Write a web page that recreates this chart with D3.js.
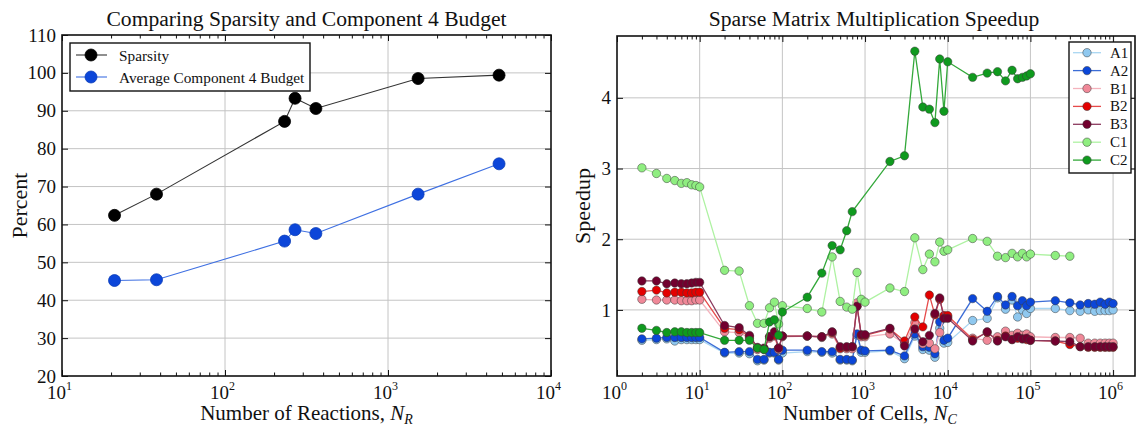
<!DOCTYPE html>
<html><head><meta charset="utf-8">
<script src="https://cdn.jsdelivr.net/npm/d3@7"></script>
<style>
body{margin:0;background:#fff;}
svg text{font-family:"Liberation Serif","Times New Roman",serif;fill:#111;}
</style></head><body>
<svg id="chart" width="1138" height="427"></svg>
<script>
// ---- Left panel data: sparsity vs. component 4 budget ----
const reactions = [21, 38, 232, 269, 361, 1530, 4800];
const sparsity  = [62.4, 68.0, 87.2, 93.3, 90.6, 98.5, 99.4];
const budget    = [45.2, 45.4, 55.6, 58.6, 57.6, 68.0, 76.0];
const percentTicks = [20, 30, 40, 50, 60, 70, 80, 90, 100, 110];
const reactionDecades = [1, 2, 3, 4];

// ---- Right panel data: speedup vs. number of cells ----
const cells = [
  2,3,4,5,6,7,8,9,10,
  20,30,40,50,60,70,80,90,100,
  200,300,400,500,600,700,800,900,1000,
  2000,3000,4000,5000,6000,7000,8000,9000,10000,
  20000,30000,40000,50000,60000,70000,80000,90000,100000,
  200000,300000,400000,500000,600000,700000,800000,900000,1000000
];
const speedA1 = [
  0.57,0.58,0.59,0.56,0.58,0.58,0.58,0.58,0.58,
  0.39,0.39,0.38,0.28,0.29,0.39,0.39,0.29,0.39,
  0.41,0.40,0.39,0.29,0.29,0.28,0.64,0.40,0.40,
  0.42,0.31,0.63,0.44,0.43,0.33,0.74,0.53,0.54,
  0.85,0.88,1.17,1.01,1.14,0.90,1.00,0.95,1.02,
  1.02,0.99,0.98,1.00,0.98,0.99,0.99,0.99,1.00
];
const speedA2 = [
  0.59,0.60,0.61,0.61,0.61,0.61,0.61,0.61,0.61,
  0.40,0.41,0.41,0.30,0.30,0.40,0.40,0.30,0.43,
  0.43,0.41,0.41,0.30,0.30,0.29,0.66,0.43,0.42,
  0.43,0.35,0.66,0.48,0.47,0.38,0.83,0.57,0.60,
  1.16,0.98,1.19,1.07,1.19,1.06,1.13,1.06,1.11,
  1.13,1.10,1.07,1.09,1.08,1.11,1.08,1.11,1.09
];
const speedB1 = [
  1.15,1.14,1.14,1.14,1.13,1.13,1.13,1.14,1.14,
  0.69,0.68,0.60,0.44,0.44,0.60,0.63,0.44,0.62,
  0.63,0.61,0.66,0.45,0.45,0.45,1.10,0.62,0.62,
  0.66,0.52,0.82,0.52,0.53,0.45,0.68,0.90,0.90,
  0.60,0.57,0.62,0.70,0.64,0.67,0.64,0.66,0.62,
  0.61,0.61,0.60,0.53,0.53,0.53,0.53,0.53,0.53
];
const speedB2 = [
  1.26,1.28,1.24,1.25,1.25,1.24,1.24,1.25,1.25,
  0.74,0.72,0.62,0.46,0.45,0.62,0.64,0.46,0.63,
  0.63,0.62,0.68,0.46,0.47,0.48,1.05,0.64,0.64,
  0.73,0.56,0.90,0.76,1.21,0.93,1.15,0.92,0.92,
  0.58,0.68,0.57,0.63,0.58,0.60,0.59,0.58,0.57,
  0.56,0.51,0.48,0.47,0.47,0.47,0.47,0.47,0.47
];
const speedB3 = [
  1.41,1.41,1.37,1.38,1.37,1.37,1.38,1.39,1.39,
  0.78,0.75,0.64,0.47,0.46,0.62,0.69,0.46,0.63,
  0.63,0.62,0.69,0.48,0.48,0.48,1.05,0.65,0.65,
  0.74,0.49,0.73,0.55,0.64,0.95,1.17,0.88,0.88,
  0.56,0.69,0.56,0.62,0.58,0.62,0.59,0.60,0.57,
  0.56,0.55,0.48,0.48,0.48,0.48,0.48,0.48,0.48
];
const speedC1 = [
  3.01,2.93,2.86,2.83,2.79,2.80,2.77,2.76,2.74,
  1.56,1.55,1.06,0.81,0.81,1.03,1.11,0.80,1.06,
  1.02,0.97,1.75,1.12,1.04,1.01,1.53,1.15,1.11,
  1.31,1.26,2.02,1.57,1.79,1.68,1.96,1.83,1.85,
  2.01,1.97,1.76,1.74,1.80,1.75,1.80,1.75,1.79,
  1.77,1.76,null,null,null,null,null,null,null
];
const speedC2 = [
  0.74,0.71,0.68,0.69,0.69,0.68,0.68,0.68,0.68,
  0.57,0.57,0.57,0.46,0.44,0.83,0.86,0.64,0.97,
  1.18,1.52,1.91,1.85,2.12,2.39,null,null,null,
  3.10,3.18,4.66,3.87,3.84,3.65,4.55,3.81,4.51,
  4.29,4.35,4.37,4.24,4.39,4.27,4.29,4.31,4.34,
  null,null,null,null,null,null,null,null,null
];
const seriesNames = ["A1", "A2", "B1", "B2", "B3", "C1", "C2"];
const seriesValues = [speedA1, speedA2, speedB1, speedB2, speedB3, speedC1, speedC2];
const seriesFill = ["#8fc8ef", "#0b46d8", "#f08898", "#e30000", "#72002e", "#8fee80", "#0f9a1e"];
const seriesLine = ["#a9d6f2", "#3c6dd6", "#f4b3bd", "#e64a4a", "#8c3a5e", "#aef2a2", "#33a83a"];
const speedTicks = [1, 2, 3, 4];
const cellDecades = [0, 1, 2, 3, 4, 5, 6];

const svg = d3.select("#chart");
const gridColor = "#c4c4c4";

// Panel geometry
const L = {x0: 62, x1: 551, y0: 35, y1: 376};
const R = {x0: 617, x1: 1135, y0: 36, y1: 376};

const xR = d3.scaleLog().domain([10, 1e4]).range([L.x0, L.x1]);
const yP = d3.scaleLinear().domain([20, 110]).range([L.y1, L.y0]);
const xC = d3.scaleLog().domain([1, Math.pow(10, 6.265)]).range([R.x0, R.x1]);
const yS = d3.scaleLinear().domain([0.065, 4.875]).range([R.y1, R.y0]);

function minorTicks(scale, decades) {
  const [lo, hi] = scale.domain();
  const out = [];
  decades.forEach(d => {
    for (let k = 2; k <= 9; k++) {
      const v = k * Math.pow(10, d);
      if (v > lo && v < hi) out.push(v);
    }
  });
  return out;
}

function drawGrid(P, x, y, xMajor, yMajor) {
  const g = svg.append("g");
  g.selectAll(".gx").data(xMajor.filter(v => x(v) > P.x0 + 0.5 && x(v) < P.x1 - 0.5)).enter()
    .append("line").attr("x1", d => x(d)).attr("x2", d => x(d))
    .attr("y1", P.y0).attr("y2", P.y1).attr("stroke", gridColor).attr("stroke-width", 1);
  g.selectAll(".gy").data(yMajor.filter(v => y(v) > P.y0 + 0.5 && y(v) < P.y1 - 0.5)).enter()
    .append("line").attr("y1", d => y(d)).attr("y2", d => y(d))
    .attr("x1", P.x0).attr("x2", P.x1).attr("stroke", gridColor).attr("stroke-width", 1);
}

function drawAxes(P, x, y, xMajor, yMajor, xMinor, yFmt) {
  const g = svg.append("g");
  const strip = s => s.select(".domain").remove();
  // bottom
  g.append("g").attr("transform", `translate(0,${P.y1})`)
    .call(d3.axisBottom(x).tickValues(xMinor).tickSize(-3.5).tickFormat("")).call(strip);
  const bx = g.append("g").attr("transform", `translate(0,${P.y1})`)
    .call(d3.axisBottom(x).tickValues(xMajor).tickSize(-6).tickFormat("")).call(strip);
  bx.selectAll(".tick").each(function(d) {
    const t = d3.select(this).append("text").attr("y", 23).attr("x", -3)
      .attr("text-anchor", "middle").style("font-size", "19px").attr("fill", "#111");
    t.append("tspan").text("10");
    t.append("tspan").attr("dy", -9).style("font-size", "12px").text(Math.round(Math.log10(d)));
  });
  // top
  g.append("g").attr("transform", `translate(0,${P.y0})`)
    .call(d3.axisTop(x).tickValues(xMinor).tickSize(-3.5).tickFormat("")).call(strip);
  g.append("g").attr("transform", `translate(0,${P.y0})`)
    .call(d3.axisTop(x).tickValues(xMajor).tickSize(-6).tickFormat("")).call(strip);
  // left
  g.append("g").attr("transform", `translate(${P.x0},0)`)
    .call(d3.axisLeft(y).tickValues(yMajor).tickSize(-6).tickPadding(6).tickFormat(yFmt))
    .call(strip)
    .call(a => a.selectAll("text").style("font-size", "19px").attr("fill", "#111"));
  // right
  g.append("g").attr("transform", `translate(${P.x1},0)`)
    .call(d3.axisRight(y).tickValues(yMajor).tickSize(-6).tickFormat("")).call(strip);
  g.selectAll(".tick line").attr("stroke", "#111").attr("stroke-width", 1);
  // frame
  g.append("rect").attr("x", P.x0).attr("y", P.y0)
    .attr("width", P.x1 - P.x0).attr("height", P.y1 - P.y0)
    .attr("fill", "none").attr("stroke", "#111").attr("stroke-width", 1.6);
}

// ================= Left panel =================
const xMajorL = reactionDecades.map(d => Math.pow(10, d));
const xMinorL = minorTicks(xR, [1, 2, 3]);
drawGrid(L, xR, yP, xMajorL, percentTicks);

const leftSeries = [
  {name: "Sparsity", values: sparsity, fill: "#000", stroke: "#000", line: "#333"},
  {name: "Average Component 4 Budget", values: budget, fill: "#0c46d9", stroke: "#0a3cb8", line: "#3f70e2"}
];
const lineL = d3.line().x(d => xR(d[0])).y(d => yP(d[1]));
leftSeries.forEach(s => {
  const pts = reactions.map((r, i) => [r, s.values[i]]);
  svg.append("path").attr("d", lineL(pts)).attr("fill", "none")
    .attr("stroke", s.line).attr("stroke-width", 1.1);
  svg.append("g").selectAll("circle").data(pts).enter().append("circle")
    .attr("cx", d => xR(d[0])).attr("cy", d => yP(d[1])).attr("r", 6)
    .attr("fill", s.fill).attr("stroke", s.stroke).attr("stroke-width", 0.8);
});

drawAxes(L, xR, yP, xMajorL, percentTicks, xMinorL, d3.format("d"));

// Left legend
const legL = svg.append("g");
legL.append("rect").attr("x", 70).attr("y", 43).attr("width", 240).attr("height", 48)
  .attr("fill", "#fff").attr("stroke", "#111").attr("stroke-width", 1.4);
leftSeries.forEach((s, i) => {
  const yy = 55 + i * 22;
  legL.append("line").attr("x1", 76).attr("x2", 107).attr("y1", yy).attr("y2", yy)
    .attr("stroke", s.line).attr("stroke-width", 1.1);
  legL.append("circle").attr("cx", 91).attr("cy", yy).attr("r", 6)
    .attr("fill", s.fill).attr("stroke", s.stroke).attr("stroke-width", 0.8);
  legL.append("text").attr("x", 119).attr("y", yy + 5.5).style("font-size", "15.3px").text(s.name);
});

// Left titles
svg.append("text").attr("x", (L.x0 + L.x1) / 2).attr("y", 26).attr("text-anchor", "middle")
  .style("font-size", "21.6px").text("Comparing Sparsity and Component 4 Budget");
const xtL = svg.append("text").attr("x", (L.x0 + L.x1) / 2).attr("y", 420)
  .attr("text-anchor", "middle").style("font-size", "21px");
xtL.append("tspan").text("Number of Reactions, ");
xtL.append("tspan").style("font-style", "italic").text("N");
xtL.append("tspan").style("font-style", "italic").style("font-size", "14px").attr("dy", 4).text("R");
svg.append("text").attr("transform", `translate(27,${(L.y0 + L.y1) / 2}) rotate(-90)`)
  .attr("text-anchor", "middle").style("font-size", "22px").text("Percent");

// ================= Right panel =================
const xMajorR = cellDecades.map(d => Math.pow(10, d));
const xMinorR = minorTicks(xC, [0, 1, 2, 3, 4, 5, 6]);
drawGrid(R, xC, yS, xMajorR, speedTicks);

const lineR = d3.line().x(d => xC(d[0])).y(d => yS(d[1]));
seriesValues.forEach((vals, si) => {
  const pts = cells.map((c, i) => [c, vals[i]]).filter(d => d[1] !== null);
  svg.append("path").attr("d", lineR(pts)).attr("fill", "none")
    .attr("stroke", seriesLine[si]).attr("stroke-width", 1.3);
  svg.append("g").selectAll("circle").data(pts).enter().append("circle")
    .attr("cx", d => xC(d[0])).attr("cy", d => yS(d[1])).attr("r", 4.2)
    .attr("fill", seriesFill[si]).attr("stroke", "#3a3a3a").attr("stroke-width", 0.5);
});

drawAxes(R, xC, yS, xMajorR, speedTicks, xMinorR, d3.format("d"));

// Right legend
const legR = svg.append("g");
legR.append("rect").attr("x", 1069).attr("y", 42).attr("width", 62).attr("height", 131)
  .attr("fill", "#fff").attr("stroke", "#111").attr("stroke-width", 1.4);
seriesNames.forEach((n, i) => {
  const yy = 52.7 + i * 17.9;
  legR.append("line").attr("x1", 1073).attr("x2", 1101).attr("y1", yy).attr("y2", yy)
    .attr("stroke", seriesLine[i]).attr("stroke-width", 1.3);
  legR.append("circle").attr("cx", 1087).attr("cy", yy).attr("r", 4.2)
    .attr("fill", seriesFill[i]).attr("stroke", "#3a3a3a").attr("stroke-width", 0.5);
  legR.append("text").attr("x", 1110).attr("y", yy + 5).style("font-size", "15px").text(n);
});

// Right titles
svg.append("text").attr("x", (R.x0 + R.x1) / 2 - 2).attr("y", 26).attr("text-anchor", "middle")
  .style("font-size", "21.6px").text("Sparse Matrix Multiplication Speedup");
const xtR = svg.append("text").attr("x", (R.x0 + R.x1) / 2 - 6).attr("y", 420)
  .attr("text-anchor", "middle").style("font-size", "21px");
xtR.append("tspan").text("Number of Cells, ");
xtR.append("tspan").style("font-style", "italic").text("N");
xtR.append("tspan").style("font-style", "italic").style("font-size", "14px").attr("dy", 4).text("C");
svg.append("text").attr("transform", `translate(590,${(R.y0 + R.y1) / 2}) rotate(-90)`)
  .attr("text-anchor", "middle").style("font-size", "22px").text("Speedup");
</script></body></html>
